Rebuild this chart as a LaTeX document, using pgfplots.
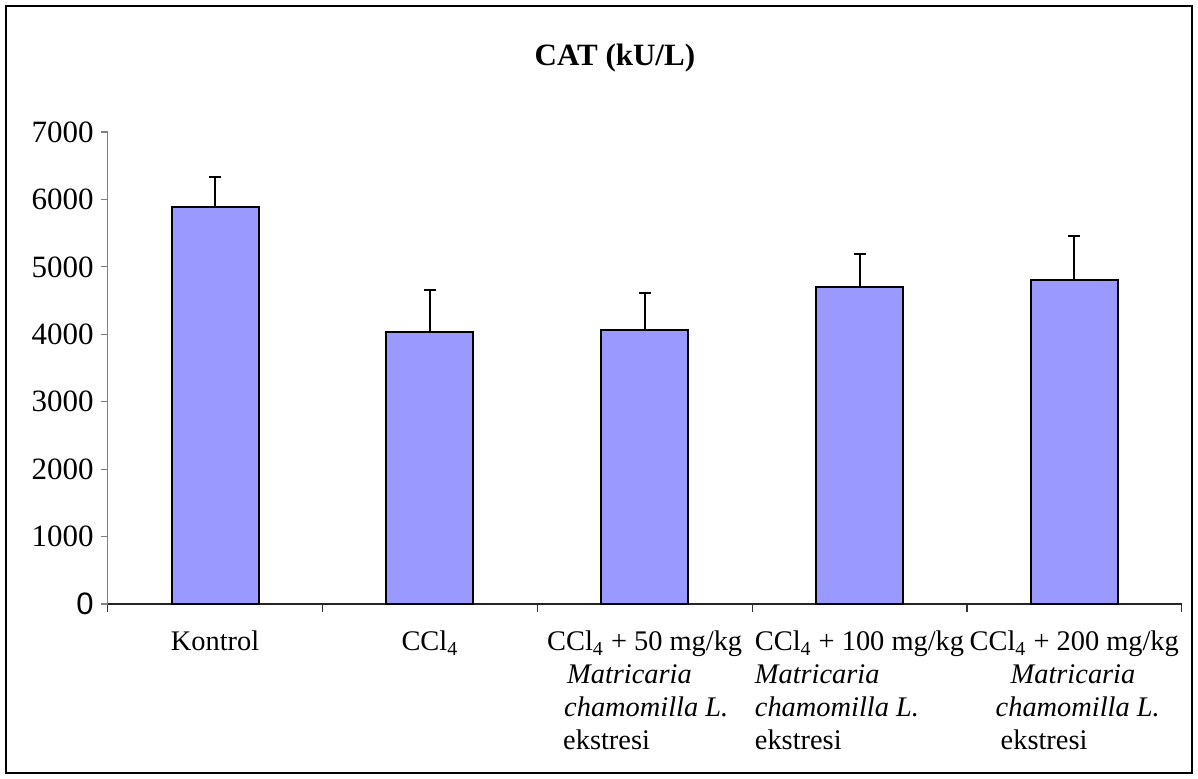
\documentclass[border=0pt]{standalone}
\usepackage{pgfplots}
\pgfplotsset{compat=1.18}
\usepackage{fontspec}
\setmainfont{Liberation Serif}
\newfontfamily\arialfont{Liberation Sans}
\definecolor{barblue}{HTML}{9999FF}
\begin{document}
\begin{tikzpicture}
\useasboundingbox (-53.85pt,-87.5pt) rectangle (545.15pt,302pt);
\draw[line width=1pt] (-50.6pt,-84.5pt) rectangle (542.2pt,299pt);
\node[font=\bfseries\fontsize{15.5}{18}\selectfont] at (253.6pt,273pt) {CAT (kU/L)};
\begin{axis}[
  at={(0pt,0pt)}, anchor=south west,
  scale only axis, width=537pt, height=236pt,
  xmin=-0.5, xmax=4.5, ymin=0, ymax=7000,
  axis x line*=bottom, axis y line*=left,
  x axis line style={black!85, line width=0.6pt},
  y axis line style={gray, line width=0.6pt},
  ybar, bar width=43.5pt,
  xtick={0,1,2,3,4},
  xticklabels={
    {Kontrol},
    {CCl\textsubscript{4}},
    {CCl\textsubscript{4} + 50 mg/kg\\\hspace*{10pt}\textit{Matricaria}\\\hspace*{8.5pt}\textit{chamomilla L.}\\\hspace*{8pt}ekstresi},
    {CCl\textsubscript{4} + 100 mg/kg\\\hspace*{0pt}\textit{Matricaria}\\\textit{chamomilla L.}\\ekstresi},
    {CCl\textsubscript{4} + 200 mg/kg\\\hspace*{20.5pt}\textit{Matricaria}\\\hspace*{13pt}\textit{chamomilla L.}\\\hspace*{15.5pt}ekstresi}
  },
  major x tick style={draw=none},
  minor xtick={-0.5,0.5,1.5,2.5,3.5,4.5},
  minor x tick style={black!80, line width=0.6pt},
  minor tick length=4pt,
  tick align=outside,
  major tick length=3.5pt,
  y tick style={gray, line width=0.6pt},
  ytick={0,1000,2000,3000,4000,5000,6000,7000},
  yticklabels={{\arialfont 0},1000,2000,3000,4000,5000,6000,7000},
  yticklabel style={font=\fontsize{15.5}{18}\selectfont},
  xticklabel style={font=\fontsize{14.2}{16.5}\selectfont, align=left, anchor=north, yshift=-6.5pt},
  clip=false,
]
\addplot[fill=barblue, draw=black, line width=1pt,
  error bars/.cd, y dir=plus, y explicit, error mark=-,
  error bar style={black, line width=1pt},
  error mark options={rotate=90, black, mark size=3pt, line width=1pt}]
  table[x=x, y=y, y error=e] {
x y e
0 5890 440
1 4030 620
2 4060 550
3 4700 490
4 4800 660
};
\end{axis}
\end{tikzpicture}
\end{document}
